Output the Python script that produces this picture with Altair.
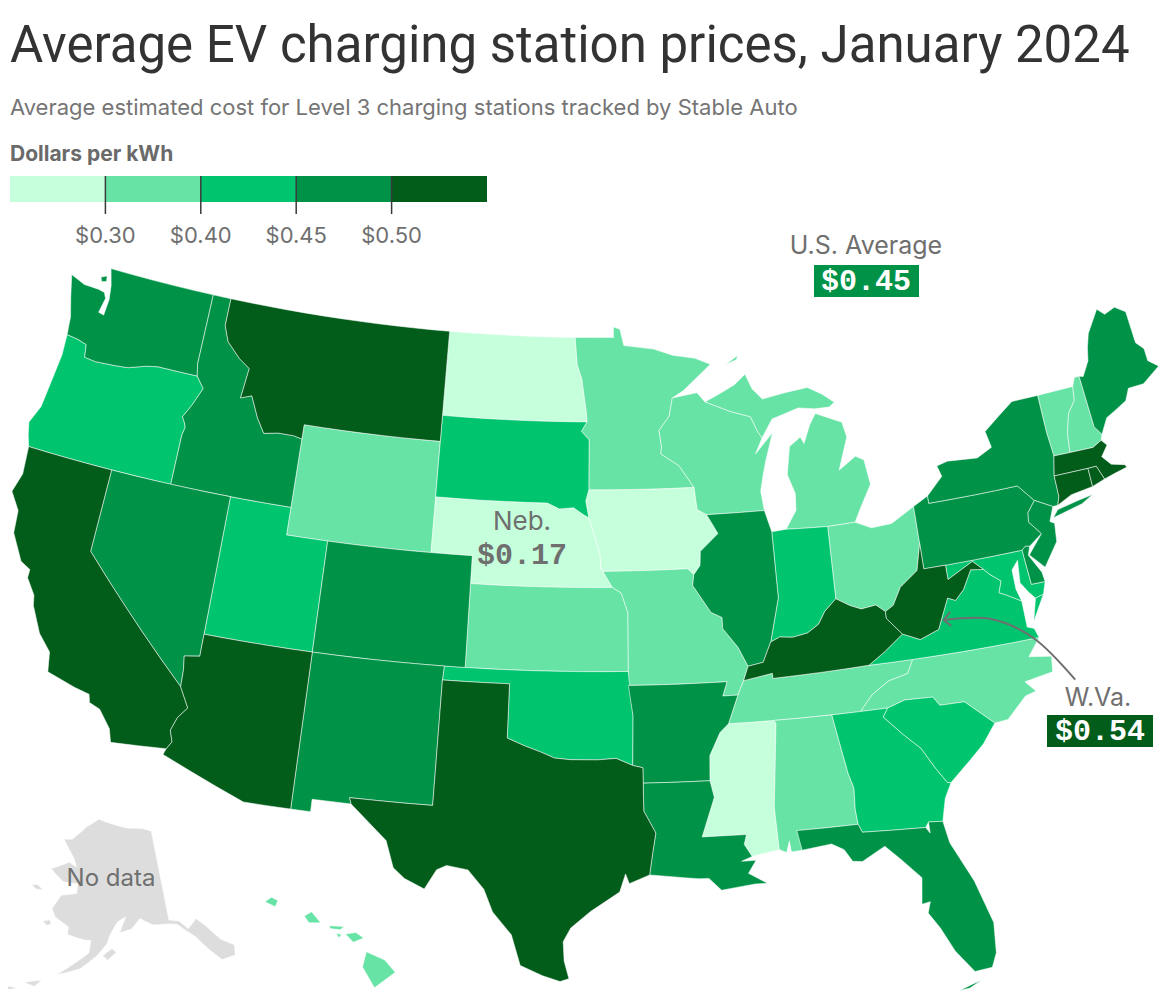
import altair as alt

# ---------- text ----------
TITLE = "Average EV charging station prices, January 2024"
SUBTITLE = "Average estimated cost for Level 3 charging stations tracked by Stable Auto"
LEGEND_TITLE = "Dollars per kWh"
BINS = ["under $0.30", "$0.30 to $0.40", "$0.40 to $0.45", "$0.45 to $0.50", "over $0.50", "No data"]
COLORS = ["#c5ffdb", "#67e3a5", "#00c56e", "#009347", "#025c1a", "#dddddd"]
TICK_LABELS = ["$0.30", "$0.40", "$0.45", "$0.50"]

BIN0 = ["ND", "NE", "IA", "MS"]
BIN1 = ["MN", "WI", "MI", "OH", "MO", "KS", "WY", "TN", "AL", "NC", "VT", "NH", "HI"]
BIN2 = ["OR", "UT", "SD", "OK", "IN", "VA", "GA", "SC", "MD"]
BIN3 = ["WA", "ID", "NV", "CO", "NM", "AR", "LA", "FL", "IL", "PA", "NY", "NJ", "ME", "DE"]
BIN4 = ["CA", "AZ", "MT", "TX", "KY", "WV", "MA", "CT", "RI"]
BIN5 = ["AK"]

# ---------- state outlines (lon, lat), read approximately ----------
WA = [[(-124.0,46.25),(-124.1,46.9),(-124.4,47.6),(-124.7,48.38),(-123.9,48.17),(-123.1,48.15),(-122.75,48.1),(-122.6,47.9),(-122.75,47.35),(-122.45,47.3),(-122.4,47.9),(-122.5,48.4),(-122.76,49.0),(-117.03,49.0),(-117.04,46.42),(-116.92,46.0),(-119.0,46.0),(-119.6,45.92),(-120.5,45.7),(-121.2,45.65),(-122.2,45.6),(-122.8,45.65),(-122.9,46.1),(-123.4,46.2)],
      [(-123.15,48.6),(-122.85,48.7),(-122.8,48.5),(-123.05,48.45)]]
OR = [[(-124.0,46.25),(-123.4,46.2),(-122.9,46.1),(-122.8,45.65),(-122.2,45.6),(-121.2,45.65),(-120.5,45.7),(-119.6,45.92),(-119.0,46.0),(-116.92,46.0),(-116.48,45.6),(-116.85,44.95),(-117.2,44.45),(-117.03,44.25),(-116.95,44.1),(-117.03,43.8),(-117.03,42.0),(-124.21,42.0),(-124.4,42.4),(-124.55,42.84),(-124.2,43.5),(-124.05,44.7),(-123.95,45.5)]]
ID = [[(-117.03,49.0),(-116.05,49.0),(-116.05,48.0),(-115.72,47.45),(-114.95,46.93),(-114.35,46.65),(-114.5,45.55),(-113.95,45.7),(-113.45,44.95),(-113.0,44.45),(-112.3,44.55),(-111.5,44.55),(-111.05,44.48),(-111.05,42.0),(-117.03,42.0),(-117.03,43.8),(-116.95,44.1),(-117.03,44.25),(-117.2,44.45),(-116.85,44.95),(-116.48,45.6),(-116.92,46.0),(-117.04,46.42)]]
MT = [[(-116.05,49.0),(-104.05,49.0),(-104.05,45.0),(-111.05,45.0),(-111.05,44.48),(-111.5,44.55),(-112.3,44.55),(-113.0,44.45),(-113.45,44.95),(-113.95,45.7),(-114.5,45.55),(-114.35,46.65),(-114.95,46.93),(-115.72,47.45),(-116.05,48.0)]]
WY = [[(-111.05,45.0),(-104.05,45.0),(-104.05,41.0),(-111.05,41.0)]]
ND = [[(-104.05,49.0),(-97.23,49.0),(-97.1,48.0),(-96.85,47.5),(-96.6,46.3),(-96.56,45.94),(-104.05,45.94)]]
SD = [[(-104.05,45.94),(-96.56,45.94),(-96.85,45.6),(-96.45,45.3),(-96.45,43.5),(-96.6,43.1),(-96.45,42.5),(-96.7,42.6),(-97.2,42.85),(-97.9,42.8),(-98.5,43.0),(-104.05,43.0)]]
NE = [[(-104.05,43.0),(-98.5,43.0),(-97.9,42.8),(-97.2,42.85),(-96.7,42.6),(-96.45,42.5),(-96.1,41.7),(-95.9,41.2),(-95.85,40.7),(-95.31,40.0),(-102.05,40.0),(-102.05,41.0),(-104.05,41.0)]]
CO = [[(-109.05,41.0),(-102.05,41.0),(-102.05,37.0),(-109.05,37.0)]]
KS = [[(-102.05,40.0),(-95.31,40.0),(-94.9,39.8),(-94.6,39.1),(-94.62,37.0),(-102.05,37.0)]]
OK = [[(-103.0,37.0),(-94.62,37.0),(-94.43,35.4),(-94.48,33.64),(-95.2,33.9),(-96.0,33.85),(-96.6,33.85),(-97.2,33.85),(-97.9,33.9),(-98.5,34.1),(-99.2,34.3),(-100.0,34.56),(-100.0,36.5),(-103.04,36.5)]]
TX = [[(-103.04,36.5),(-100.0,36.5),(-100.0,34.56),(-99.2,34.3),(-98.5,34.1),(-97.9,33.9),(-97.2,33.85),(-96.6,33.85),(-96.0,33.85),(-95.2,33.9),(-94.48,33.64),(-94.04,33.55),(-94.04,32.0),(-93.55,31.2),(-93.7,30.5),(-93.85,29.7),(-94.7,29.4),(-94.85,29.75),(-95.1,29.1),(-96.3,28.4),(-97.1,27.8),(-97.4,27.3),(-97.35,26.6),(-97.15,25.96),(-97.5,25.85),(-98.2,26.05),(-99.1,26.4),(-99.5,27.5),(-100.3,28.3),(-100.7,29.1),(-101.4,29.77),(-102.3,29.88),(-102.7,29.7),(-103.15,28.98),(-104.0,29.3),(-104.5,29.65),(-104.9,30.6),(-106.53,31.78),(-106.62,32.0),(-103.06,32.0)]]
NM = [[(-109.05,37.0),(-103.0,37.0),(-103.04,36.5),(-103.06,32.0),(-106.62,32.0),(-106.53,31.78),(-108.2,31.78),(-108.2,31.33),(-109.05,31.33)]]
AZ = [[(-114.05,37.0),(-109.05,37.0),(-109.05,31.33),(-111.07,31.33),(-114.81,32.5),(-114.72,32.72),(-114.53,33.0),(-114.7,33.4),(-114.5,33.9),(-114.14,34.3),(-114.63,35.0),(-114.65,35.6),(-114.74,36.1),(-114.05,36.2)]]
NV = [[(-120.0,42.0),(-114.05,42.0),(-114.05,36.2),(-114.74,36.1),(-114.65,35.6),(-114.63,35.0),(-120.0,39.0)]]
UT = [[(-114.05,42.0),(-111.05,42.0),(-111.05,41.0),(-109.05,41.0),(-109.05,37.0),(-114.05,37.0)]]
CA = [[(-124.21,42.0),(-120.0,42.0),(-120.0,39.0),(-114.63,35.0),(-114.14,34.3),(-114.5,33.9),(-114.7,33.4),(-114.53,33.0),(-114.72,32.72),(-117.12,32.53),(-117.3,33.0),(-117.9,33.6),(-118.4,33.75),(-118.5,34.03),(-119.2,34.15),(-120.5,34.45),(-120.65,35.15),(-121.3,35.7),(-121.9,36.6),(-122.0,36.96),(-122.5,37.5),(-122.5,37.8),(-123.0,38.0),(-123.7,38.9),(-123.8,39.7),(-124.35,40.3),(-124.1,41.0)]]
MN = [[(-97.23,49.0),(-95.15,49.0),(-95.15,49.38),(-94.8,49.3),(-94.6,48.7),(-93.0,48.55),(-92.0,48.3),(-90.8,48.15),(-90.0,47.9),(-90.5,47.6),(-91.5,47.0),(-92.1,46.75),(-92.3,46.1),(-92.85,45.6),(-92.75,45.0),(-92.8,44.75),(-91.9,44.3),(-91.2,43.5),(-96.45,43.5),(-96.45,45.3),(-96.85,45.6),(-96.56,45.94),(-96.6,46.3),(-96.85,47.5),(-97.1,48.0)]]
IA = [[(-96.45,43.5),(-91.2,43.5),(-91.1,42.7),(-90.65,42.5),(-90.15,41.8),(-91.05,41.2),(-91.1,40.7),(-91.42,40.38),(-91.7,40.6),(-95.77,40.58),(-95.85,40.7),(-95.9,41.2),(-96.1,41.7),(-96.45,42.5),(-96.6,43.1)]]
MO = [[(-95.77,40.58),(-91.7,40.6),(-91.42,40.38),(-91.5,40.0),(-90.7,39.0),(-90.2,38.8),(-90.2,38.4),(-89.55,37.7),(-89.15,37.0),(-89.4,36.5),(-89.7,36.0),(-90.38,36.0),(-90.15,36.5),(-94.62,36.5),(-94.62,37.0),(-94.6,39.1),(-94.9,39.8),(-95.31,40.0),(-95.85,40.7)]]
AR = [[(-94.62,36.5),(-90.15,36.5),(-90.38,36.0),(-89.7,36.0),(-90.05,35.3),(-90.2,35.0),(-90.6,34.7),(-91.1,33.9),(-91.15,33.0),(-94.04,33.0),(-94.04,33.55),(-94.48,33.64),(-94.43,35.4)]]
LA = [[(-94.04,33.0),(-91.15,33.0),(-91.0,32.4),(-91.6,31.0),(-89.73,31.0),(-89.85,30.65),(-89.55,30.2),(-90.0,30.05),(-89.4,30.05),(-89.75,29.6),(-89.0,29.2),(-89.5,29.2),(-90.0,29.15),(-90.9,29.05),(-91.4,29.5),(-91.8,29.5),(-92.3,29.55),(-93.85,29.7),(-93.7,30.5),(-93.55,31.2),(-94.04,32.0)]]
MS = [[(-91.15,33.0),(-91.1,33.9),(-90.6,34.7),(-90.2,35.0),(-88.2,35.0),(-88.1,34.9),(-88.47,31.9),(-88.4,30.37),(-89.55,30.2),(-89.85,30.65),(-89.73,31.0),(-91.6,31.0),(-91.0,32.4)]]
AL = [[(-88.2,35.0),(-85.6,35.0),(-85.18,32.87),(-85.0,32.3),(-85.05,31.55),(-85.0,31.0),(-87.6,31.0),(-87.4,30.65),(-87.45,30.28),(-87.9,30.25),(-87.95,30.65),(-88.1,30.25),(-88.4,30.37),(-88.47,31.9),(-88.1,34.9)]]
GA = [[(-85.6,35.0),(-83.1,35.0),(-83.35,34.7),(-82.6,34.0),(-81.9,33.4),(-81.4,32.6),(-81.0,32.05),(-80.85,32.03),(-81.2,31.5),(-81.45,30.7),(-82.05,30.75),(-82.2,30.57),(-84.86,30.7),(-85.0,31.0),(-85.05,31.55),(-85.0,32.3),(-85.18,32.87)]]
FL = [[(-87.6,31.0),(-85.0,31.0),(-84.86,30.7),(-82.2,30.57),(-82.05,30.35),(-82.05,30.75),(-81.45,30.7),(-81.3,29.9),(-80.55,28.4),(-80.05,26.8),(-80.15,25.7),(-80.4,25.2),(-81.1,25.15),(-81.75,26.0),(-82.2,26.9),(-82.6,27.5),(-82.45,27.9),(-82.8,27.85),(-82.65,28.8),(-83.4,29.55),(-84.0,30.1),(-85.0,29.65),(-85.4,29.7),(-85.7,30.15),(-86.2,30.4),(-87.45,30.28)],
      [(-81.8,24.55),(-81.3,24.7),(-80.9,24.8),(-81.4,24.58)]]
SC = [[(-83.1,35.0),(-82.3,35.2),(-81.05,35.15),(-80.8,34.82),(-79.7,34.8),(-78.55,33.86),(-79.2,33.2),(-79.9,32.7),(-80.85,32.03),(-81.0,32.05),(-81.4,32.6),(-81.9,33.4),(-82.6,34.0),(-83.35,34.7)]]
NC = [[(-84.32,35.0),(-83.1,35.0),(-82.3,35.2),(-81.05,35.15),(-80.8,34.82),(-79.7,34.8),(-78.55,33.86),(-77.95,33.9),(-77.0,34.6),(-76.5,34.7),(-76.9,35.1),(-75.6,35.25),(-75.5,35.8),(-76.5,35.95),(-75.87,36.55),(-81.68,36.59),(-82.0,36.12),(-82.9,35.95),(-83.7,35.55)]]
TN = [[(-90.2,35.0),(-88.2,35.0),(-85.6,35.0),(-84.32,35.0),(-83.7,35.55),(-82.9,35.95),(-82.0,36.12),(-81.68,36.59),(-83.68,36.6),(-88.07,36.5),(-88.07,36.68),(-89.4,36.5),(-89.7,36.0),(-90.05,35.3)]]
KY = [[(-89.4,36.5),(-88.07,36.68),(-88.07,36.5),(-83.68,36.6),(-82.9,37.0),(-81.97,37.54),(-82.6,38.17),(-82.6,38.42),(-83.0,38.7),(-83.7,38.63),(-84.2,38.8),(-84.82,39.1),(-85.4,38.7),(-85.75,38.27),(-86.3,38.0),(-87.0,37.9),(-87.6,37.95),(-88.03,37.8),(-88.45,37.1),(-89.15,37.0)]]
VA = [[(-83.68,36.6),(-81.68,36.59),(-75.87,36.55),(-76.0,36.9),(-76.3,37.0),(-76.3,37.5),(-76.3,37.95),(-77.0,38.3),(-77.25,38.4),(-77.05,38.8),(-77.5,39.1),(-77.75,39.32),(-78.35,39.4),(-78.85,38.75),(-79.3,38.42),(-79.65,38.55),(-80.3,37.5),(-81.2,37.25),(-81.97,37.54),(-82.9,37.0)],
      [(-75.95,37.15),(-75.25,38.03),(-75.65,37.95)]]
WV = [[(-81.97,37.54),(-81.2,37.25),(-80.3,37.5),(-79.65,38.55),(-79.3,38.42),(-78.85,38.75),(-78.35,39.4),(-77.75,39.32),(-78.2,39.68),(-79.48,39.2),(-79.48,39.72),(-80.52,39.72),(-80.52,40.64),(-80.85,39.7),(-81.75,39.2),(-82.2,38.6),(-82.6,38.42),(-82.6,38.17)]]
MD = [[(-79.48,39.72),(-75.79,39.72),(-75.7,38.46),(-75.05,38.45),(-75.25,38.03),(-75.65,37.95),(-75.9,38.2),(-76.2,38.6),(-76.1,39.4),(-76.45,39.1),(-76.45,38.4),(-76.3,37.95),(-77.0,38.3),(-77.25,38.4),(-77.05,38.8),(-77.5,39.1),(-77.75,39.32),(-78.2,39.68),(-79.48,39.2)]]
DE = [[(-75.79,39.72),(-75.6,39.83),(-75.4,39.8),(-75.55,39.5),(-75.1,38.8),(-75.05,38.45),(-75.7,38.46)]]
PA = [[(-80.52,41.98),(-79.76,42.27),(-79.76,42.0),(-75.35,42.0),(-74.7,41.36),(-75.13,40.98),(-75.2,40.65),(-74.72,40.15),(-75.4,39.8),(-75.6,39.83),(-75.79,39.72),(-80.52,39.72)]]
NJ = [[(-75.13,40.98),(-74.7,41.36),(-73.9,41.0),(-74.2,40.5),(-74.0,40.4),(-74.1,39.75),(-74.9,38.95),(-75.5,39.5),(-74.72,40.15),(-75.2,40.65)]]
NY = [[(-79.76,42.27),(-79.76,42.0),(-75.35,42.0),(-74.7,41.36),(-73.9,41.0),(-73.65,41.0),(-73.5,41.3),(-73.49,42.05),(-73.27,42.75),(-73.35,43.6),(-73.35,45.0),(-74.7,45.0),(-75.5,44.6),(-76.35,44.15),(-76.2,43.55),(-77.0,43.28),(-78.5,43.37),(-79.05,43.27),(-78.9,42.87)],
      [(-74.0,40.6),(-72.5,40.85),(-71.9,41.07),(-72.6,41.0),(-73.7,40.85)]]
CT = [[(-73.65,41.0),(-73.5,41.3),(-73.49,42.05),(-71.8,42.02),(-71.8,41.35),(-72.9,41.25)]]
RI = [[(-71.8,42.02),(-71.38,42.02),(-71.15,41.5),(-71.8,41.35)]]
MA = [[(-73.49,42.05),(-73.27,42.75),(-72.46,42.73),(-71.3,42.7),(-70.82,42.87),(-70.6,42.65),(-71.0,42.3),(-70.65,41.95),(-70.0,41.8),(-70.2,42.07),(-69.95,41.7),(-70.6,41.6),(-71.15,41.5),(-71.38,42.02),(-71.8,42.02)]]
VT = [[(-73.35,45.0),(-71.5,45.0),(-71.6,44.5),(-72.05,44.1),(-72.35,43.4),(-72.46,42.73),(-73.27,42.75),(-73.35,43.6)]]
NH = [[(-71.5,45.0),(-71.3,45.3),(-71.05,45.3),(-70.98,43.4),(-70.7,43.07),(-70.82,42.87),(-71.3,42.7),(-72.46,42.73),(-72.35,43.4),(-72.05,44.1),(-71.6,44.5)]]
ME = [[(-71.05,45.3),(-70.85,45.25),(-70.4,45.75),(-70.25,46.2),(-70.0,46.7),(-69.23,47.46),(-68.9,47.2),(-68.3,47.35),(-67.8,47.07),(-67.78,45.9),(-67.45,45.6),(-67.45,45.15),(-67.0,44.85),(-68.0,44.4),(-68.8,44.4),(-69.1,44.0),(-69.8,43.75),(-70.25,43.6),(-70.7,43.07),(-70.98,43.4)]]
WI = [[(-92.1,46.75),(-92.3,46.1),(-92.85,45.6),(-92.75,45.0),(-92.8,44.75),(-91.9,44.3),(-91.2,43.5),(-91.1,42.7),(-90.65,42.5),(-87.8,42.5),(-87.9,43.2),(-87.7,43.8),(-87.5,44.3),(-87.05,45.25),(-88.0,44.55),(-87.6,45.1),(-87.8,45.35),(-88.1,45.9),(-89.1,46.14),(-90.4,46.55),(-90.8,46.9)]]
MI = [[(-90.4,46.55),(-89.1,46.14),(-88.1,45.9),(-87.8,45.35),(-87.6,45.1),(-87.0,45.75),(-86.3,45.9),(-85.6,46.05),(-84.75,45.95),(-84.0,45.95),(-83.7,46.1),(-84.3,46.45),(-85.0,46.75),(-86.2,46.65),(-87.4,46.5),(-87.9,46.9),(-88.2,47.45),(-88.8,47.1),(-89.5,46.85)],
      [(-86.82,41.76),(-84.8,41.7),(-83.45,41.73),(-83.1,42.2),(-82.45,43.0),(-82.6,43.9),(-83.0,44.07),(-83.9,43.65),(-83.3,44.8),(-83.45,45.35),(-84.75,45.78),(-85.1,45.4),(-85.5,44.75),(-85.65,45.0),(-86.25,44.7),(-86.5,43.7),(-86.2,43.0),(-86.25,42.4)],
      [(-89.2,47.85),(-88.5,48.15),(-88.6,48.0)]]
OH = [[(-84.8,41.7),(-83.45,41.73),(-82.7,41.45),(-81.7,41.5),(-80.52,41.98),(-80.52,40.64),(-80.85,39.7),(-81.75,39.2),(-82.2,38.6),(-82.6,38.42),(-83.0,38.7),(-83.7,38.63),(-84.2,38.8),(-84.82,39.1)]]
IN = [[(-87.53,41.72),(-86.82,41.76),(-84.8,41.7),(-84.82,39.1),(-85.4,38.7),(-85.75,38.27),(-86.3,38.0),(-87.0,37.9),(-87.6,37.95),(-88.03,37.8),(-87.5,39.35)]]
IL = [[(-90.65,42.5),(-87.8,42.5),(-87.53,41.72),(-87.5,39.35),(-88.03,37.8),(-88.45,37.1),(-89.15,37.0),(-89.55,37.7),(-90.2,38.4),(-90.2,38.8),(-90.7,39.0),(-91.5,40.0),(-91.42,40.38),(-91.1,40.7),(-91.05,41.2),(-90.15,41.8)]]
HI = [[(-155.9,20.25),(-155.2,19.95),(-154.8,19.5),(-155.6,18.95),(-156.05,19.7)],
      [(-156.7,20.9),(-156.3,20.95),(-156.0,20.75),(-156.4,20.6)],
      [(-157.3,21.2),(-156.75,21.17),(-156.9,21.05),(-157.3,21.1)],
      [(-157.05,20.92),(-156.85,20.88),(-156.95,20.75)],
      [(-158.28,21.55),(-158.0,21.7),(-157.65,21.3),(-158.1,21.3)],
      [(-159.8,22.05),(-159.55,22.22),(-159.3,22.1),(-159.4,21.88)]]
AK = [[(-141.0,69.65),(-143.5,70.1),(-148.0,70.35),(-152.0,70.8),(-156.6,71.35),(-160.0,70.5),(-163.9,69.0),(-166.2,68.85),(-163.7,67.6),(-162.6,67.0),(-161.8,66.2),(-163.8,66.6),(-168.0,65.6),(-164.5,64.5),(-161.0,64.5),(-161.0,63.5),(-164.5,63.1),(-166.0,61.6),(-165.0,60.8),(-162.0,60.0),(-162.0,59.2),(-158.5,58.8),(-157.2,58.8),(-157.5,57.5),(-161.0,55.9),(-163.0,55.0),(-164.8,54.6),(-159.0,55.8),(-156.0,57.2),(-154.0,58.5),(-153.4,59.4),(-151.8,60.7),(-150.0,61.2),(-151.4,59.6),(-149.0,59.9),(-147.0,60.9),(-144.5,60.1),(-141.0,59.9),(-139.5,59.7),(-136.5,58.0),(-134.5,56.2),(-133.0,55.0),(-130.5,55.0),(-130.0,56.0),(-132.0,57.0),(-134.0,58.8),(-135.5,59.8),(-137.5,59.0),(-139.0,60.0),(-141.0,60.3)],
      [(-154.8,57.3),(-153.9,56.8),(-152.2,57.6),(-153.0,58.0)],
      [(-171.7,63.5),(-170.3,63.7),(-168.8,63.3),(-170.3,63.2)],
      [(-167.4,60.2),(-166.0,60.4),(-165.6,60.0),(-166.5,59.8)],
      [(-168.5,53.6),(-166.5,54.0),(-165.5,54.2),(-166.6,53.4)],
      [(-172.5,52.4),(-170.5,52.9),(-169.5,52.8),(-170.8,52.5)]]

# ---------- annotation text ----------
US_LABEL, US_VALUE = "U.S. Average", "$0.45"
NE_LABEL, NE_VALUE = "Neb.", "$0.17"
WV_LABEL, WV_VALUE = "W.Va.", "$0.54"
NO_DATA = "No data"
ARROW_LON = [-74.7, -76.1, -77.9, -80.0]
ARROW_LAT = [34.8, 36.55, 37.55, 37.8]
HEAD_LON = [-79.64, -80.0, -79.7]
HEAD_LAT = [38.05, 37.8, 37.55]

# ---------- build ----------
GROUPS = [BIN0, BIN1, BIN2, BIN3, BIN4, BIN5]
SHAPES = dict(WA=WA, OR=OR, ID=ID, MT=MT, WY=WY, ND=ND, SD=SD, NE=NE, CO=CO, KS=KS, OK=OK, TX=TX, NM=NM, AZ=AZ,
              NV=NV, UT=UT, CA=CA, MN=MN, IA=IA, MO=MO, AR=AR, LA=LA, MS=MS, AL=AL, GA=GA, FL=FL, SC=SC, NC=NC,
              TN=TN, KY=KY, VA=VA, WV=WV, MD=MD, DE=DE, PA=PA, NJ=NJ, NY=NY, CT=CT, RI=RI, MA=MA, VT=VT, NH=NH,
              ME=ME, WI=WI, MI=MI, OH=OH, IN=IN, IL=IL, HI=HI, AK=AK)


def ring(points):
    # close, follow the lon/lat edges rather than great circles, and wind clockwise as d3-geo expects
    pts = list(points) + [points[0]]
    area = sum(a[0] * b[1] - b[0] * a[1] for a, b in zip(pts, pts[1:]))
    if area > 0:
        pts = pts[::-1]
    out = []
    for a, b in zip(pts, pts[1:]):
        n = max(1, int(max(abs(a[0] - b[0]), abs(a[1] - b[1]))))
        out += [[a[0] + (b[0] - a[0]) * k / n, a[1] + (b[1] - a[1]) * k / n] for k in range(n)]
    return out + [out[0]]


features = []
for bin_label, group in zip(BINS, GROUPS):
    for code in group:
        features.append({
            "type": "Feature",
            "properties": {"state": code, "bin": bin_label},
            "geometry": {"type": "MultiPolygon", "coordinates": [[ring(r)] for r in SHAPES[code]]},
        })

W, H = 1154, 983
PROJ = alt.Projection(type="albersUsa", scale=1590, translate=[577, 616])
color = alt.Color("properties.bin:N", scale=alt.Scale(domain=BINS, range=COLORS), legend=None)

states = (
    alt.Chart(alt.Data(values=features))
    .mark_geoshape(stroke="#ffffff", strokeWidth=0.7, strokeOpacity=0.75)
    .encode(color=color)
    .project(**PROJ.to_dict())
)


def text(value, x, y, size, col, align="left", font="Inter", weight="normal"):
    kw = dict(text=value, align=align, baseline="alphabetic", fontSize=size, color=col, font=font, fontWeight=weight)
    return alt.Chart(alt.Data(values=[{"t": 0}])).mark_text(**kw).encode(x=alt.value(x), y=alt.value(y))


def box(x, x2, y, y2, col):
    return alt.Chart(alt.Data(values=[{"t": 0}])).mark_rect(color=col).encode(
        x=alt.value(x), x2=alt.value(x2), y=alt.value(y), y2=alt.value(y2))


legend_x = alt.Scale(domain=[0, 5], range=[2, 479])
swatches = (
    alt.Chart(alt.Data(values=[{"bin": b, "i": i, "j": i + 1} for i, b in enumerate(BINS[:5])]))
    .mark_rect()
    .encode(
        x=alt.X("i:Q", scale=legend_x, axis=None),
        x2="j:Q",
        y=alt.value(168),
        y2=alt.value(194),
        color=alt.Color("bin:N", scale=alt.Scale(domain=BINS, range=COLORS), legend=None),
    )
)
ticks_data = alt.Data(values=[{"i": i + 1, "label": t} for i, t in enumerate(TICK_LABELS)])
ticks = alt.Chart(ticks_data).mark_rule(color="#3a3a3a", strokeWidth=1.5).encode(
    x=alt.X("i:Q", scale=legend_x, axis=None), y=alt.value(168), y2=alt.value(206))
tick_text = alt.Chart(ticks_data).mark_text(
    font="Inter", fontSize=22, color="#6f6f6f", align="center", baseline="alphabetic"
).encode(x=alt.X("i:Q", scale=legend_x, axis=None), y=alt.value(235), text="label:N")

arrow = alt.Chart(alt.Data(values=[{"lon": a, "lat": b, "o": i} for i, (a, b) in enumerate(zip(ARROW_LON, ARROW_LAT))])).mark_line(
    color="#6f6f72", strokeWidth=2, interpolate="cardinal"
).encode(longitude="lon:Q", latitude="lat:Q", order="o:Q").project(**PROJ.to_dict())
head = alt.Chart(alt.Data(values=[{"lon": a, "lat": b, "o": i} for i, (a, b) in enumerate(zip(HEAD_LON, HEAD_LAT))])).mark_line(
    color="#6f6f72", strokeWidth=2
).encode(longitude="lon:Q", latitude="lat:Q", order="o:Q").project(**PROJ.to_dict())

MONO = "Liberation Mono"
GREY = "#6f6f6f"
chart = alt.layer(
    states,
    text(TITLE, 2, 54, 51, "#333333", font="Roboto"),
    text(SUBTITLE, 2, 107, 22, "#757575"),
    text(LEGEND_TITLE, 2, 153, 21, "#6a6a6a", weight="bold"),
    swatches, ticks, tick_text,
    text(US_LABEL, 858, 246, 25, GREY, align="center"),
    box(806, 911, 257, 289, COLORS[3]),
    text(US_VALUE, 858, 282, 30, "#ffffff", align="center", font=MONO, weight="bold"),
    text(NE_LABEL, 514, 522, 26, GREY, align="center"),
    text(NE_VALUE, 514, 556, 30, GREY, align="center", font=MONO, weight="bold"),
    arrow, head,
    text(WV_LABEL, 1090, 698, 25, GREY, align="center"),
    box(1039, 1145, 707, 739, COLORS[4]),
    text(WV_VALUE, 1092, 732, 30, "#ffffff", align="center", font=MONO, weight="bold"),
    text(NO_DATA, 103, 878, 24, GREY, align="center"),
).properties(width=W, height=H, padding=0, autosize=alt.AutoSizeParams(type="none")).configure_view(stroke=None)

chart.save("out.html", embed_options={"renderer": "svg", "actions": False})
